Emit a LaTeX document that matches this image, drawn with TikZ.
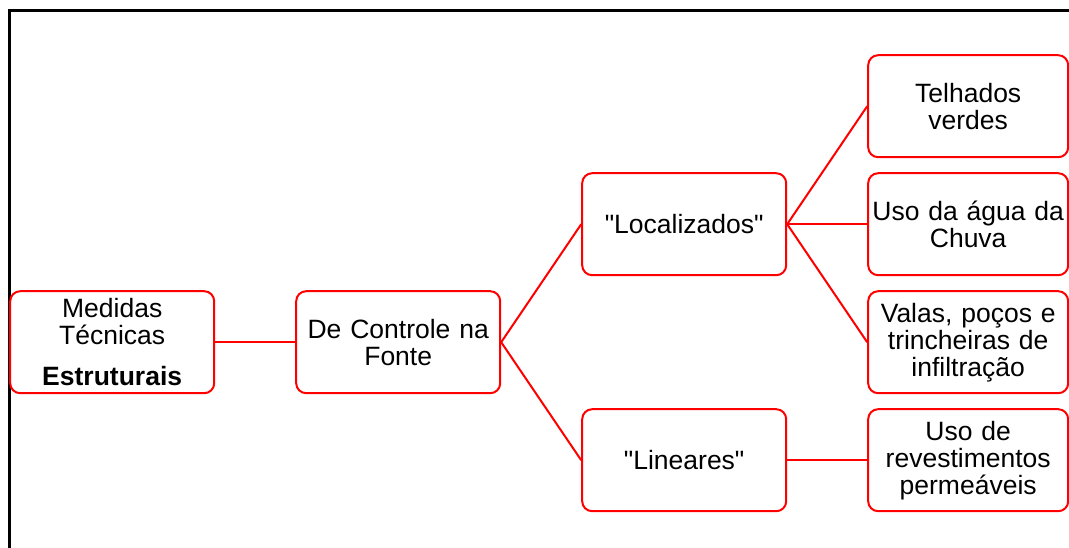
\documentclass[tikz,border=0pt]{standalone}
\usepackage{fontspec}
\setmainfont{Liberation Sans}[Ligatures=TeXOff]
\usetikzlibrary{matrix}

\begin{document}
\begin{tikzpicture}[x=1pt,y=1pt]
  \useasboundingbox (0,0) rectangle (1069,-547);
  \draw[line width=3pt] (9.5,-560) |- (1080,-10.5);
  \matrix (m) [matrix of nodes, row sep=14pt, column sep=80pt, inner sep=0pt, anchor=north west,
    nodes={draw=red, line width=2pt, rounded corners=10pt, minimum width=204pt, minimum height=102pt,
      text width=196pt, align=center, anchor=center, inner sep=2pt, font=\fontsize{26.5}{27}\selectfont},
    column 4/.style={nodes={minimum width=200pt}}] at (9,-54)
  {
 & & & Telhados\par verdes \\
 & & "Localizados" & Uso da água da\par Chuva \\
Medidas\par Técnicas\par\vskip14pt\textbf{Estruturais} & De Controle na\par Fonte & & Valas, poços e\par trincheiras de\par infiltração \\
 & & "Lineares" & Uso de\par revestimentos\par permeáveis \\
};
  \path[draw=red, line width=2pt]
  (m-3-1.east) edge (m-3-2.west)
  (m-3-2.east) edge (m-2-3.west)
               edge (m-4-3.west)
  (m-2-3.east) edge (m-1-4.west)
               edge (m-2-4.west)
               edge (m-3-4.west)
  (m-4-3.east) edge (m-4-4.west)
  ;
\end{tikzpicture}
\end{document}
